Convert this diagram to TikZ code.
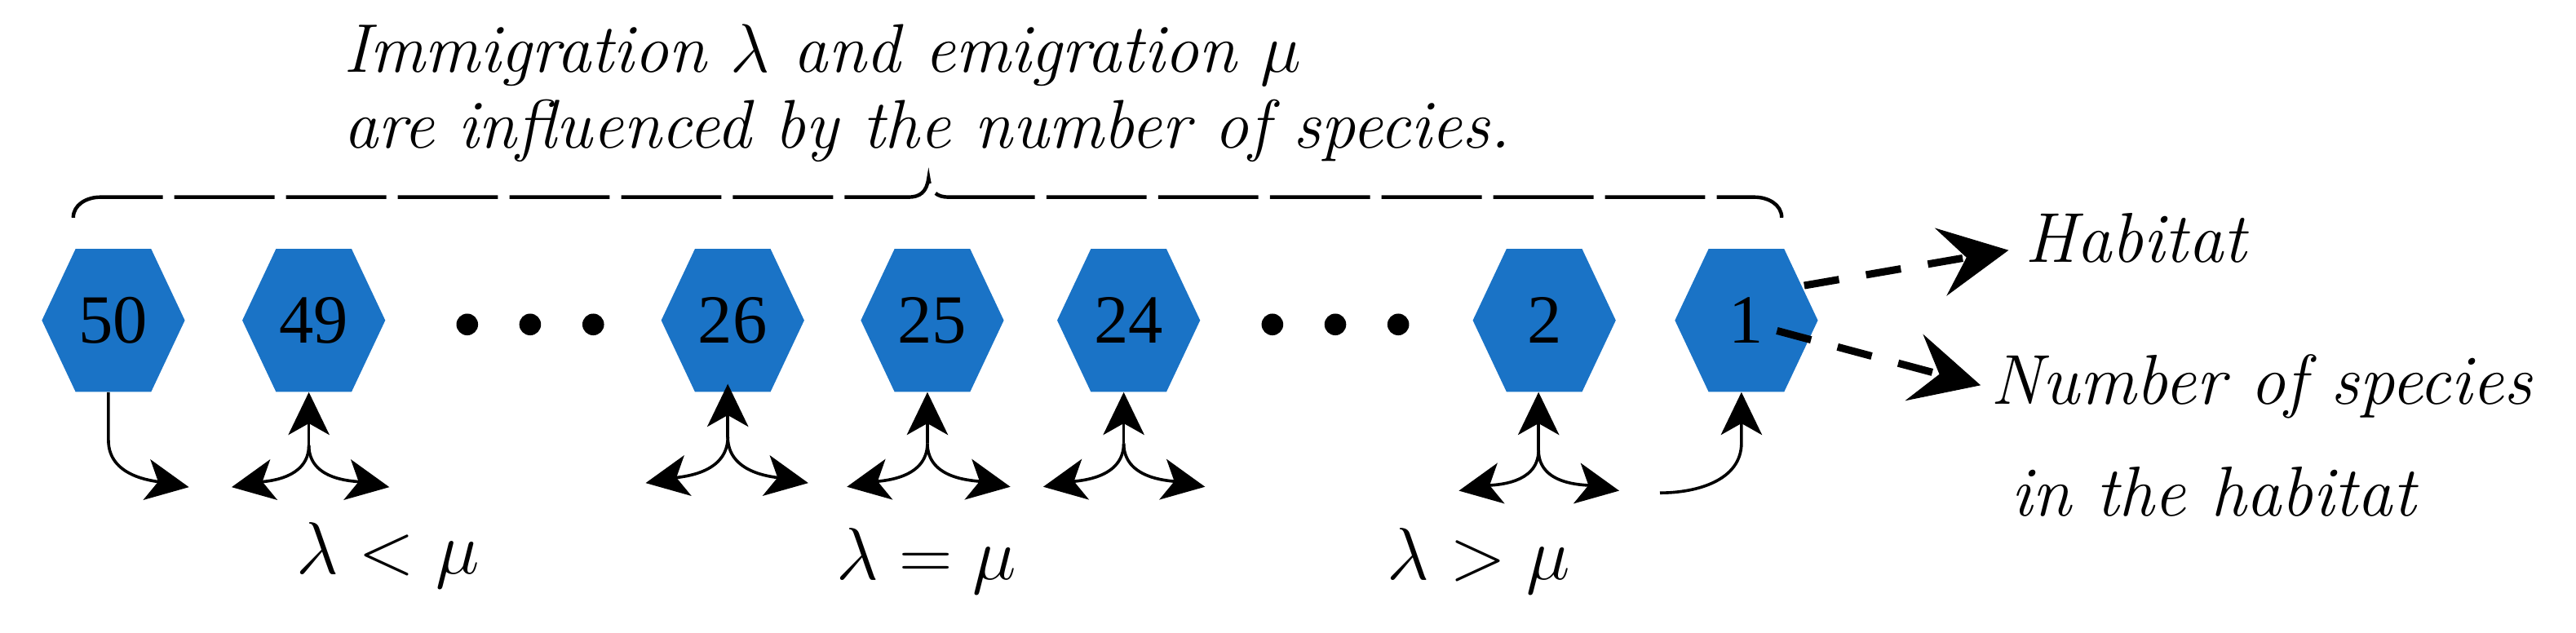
\RequirePackage{fix-cm}
\documentclass[tikz,border=0pt]{standalone}
\usepackage{fontspec}
\newfontfamily\numfont{Liberation Serif}
\usetikzlibrary{arrows.meta,calc}
\definecolor{hexblue}{HTML}{1A73C6}
\begin{document}
\begin{tikzpicture}[x=1bp,y=1bp,
  >={Stealth[length=26bp,width=25bp,inset=7bp]},
  hexnode/.style={minimum width=87bp, minimum height=87bp, inner sep=0pt,
    font=\numfont\fontsize{42bp}{48bp}\selectfont,
    path picture={\fill[hexblue] (path picture bounding box.west)
      -- ([xshift=20.5bp]path picture bounding box.north west)
      -- ([xshift=-20.5bp]path picture bounding box.north east)
      -- (path picture bounding box.east)
      -- ([xshift=-20.5bp]path picture bounding box.south east)
      -- ([xshift=20.5bp]path picture bounding box.south west) -- cycle;}},
  dotnode/.style={circle, fill=black, minimum size=13.2bp, inner sep=0pt},
  solidarrow/.style={line width=1.8bp, ->},
  dasharrow/.style={line width=4.5bp, dash pattern=on 21.5bp off 16.7bp,
    -{Stealth[length=42bp,width=42bp,inset=16bp,line width=0.5bp]}},
  bracestyle/.style={line width=2.2bp, dash pattern=on 61bp off 7bp},
  toptext/.style={inner sep=0pt, anchor=base west,
    font=\fontsize{41.9bp}{50bp}\selectfont\itshape},
  sidetext/.style={inner sep=0pt, anchor=base west,
    font=\fontsize{43bp}{52bp}\selectfont\itshape},
  condlabel/.style={inner sep=0pt, anchor=base,
    font=\fontsize{45bp}{54bp}\selectfont}
]
\useasboundingbox (0,0) rectangle (1568,385);

% habitats
\node[hexnode] (h50) at (69,190) {50};
\node[hexnode] (h49) at (191,190) {49};
\node[hexnode] (h26) at (446,190) {26};
\node[hexnode] (h25) at (567.5,190) {25};
\node[hexnode] (h24) at (687,190) {24};
\node[hexnode] (h2) at (940,190) {2};
\node[hexnode] (h1) at (1063,190) {1};

% ellipsis dots
\node[dotnode] (d1) at (284.4,187.5) {};
\node[dotnode] (d2) at (322.7,187.5) {};
\node[dotnode] (d3) at (361.1,187.5) {};
\node[dotnode] (d4) at (774.5,187.5) {};
\node[dotnode] (d5) at (812.8,187.5) {};
\node[dotnode] (d6) at (851.1,187.5) {};

% brace
\draw[bracestyle] (44.6,252.5) to[out=90,in=180] (61,265) -- (552.7,265)
  .. controls (560,265) and (564,268) .. (565.2,276.5)
  .. controls (566.4,268) and (570.4,265) .. (577.6,265)
  -- (1068,265) to[out=0,in=90] (1084.5,252.5);

% texts
\node[toptext] (t1) at (209,341.1) {Immigration $\lambda$ and emigration $\mu$};
\node[toptext] (t2) at (209,294.8) {are influenced by the number of species.};
\node[sidetext] (hab) at (1232.5,225.3) {Habitat};
\node[sidetext] (nos) at (1211.6,139.2) {Number of species};
\node[sidetext] (ith) at (1224,71.2) {in the habitat};
\node[condlabel] (c1) at (236,35.8) {$\lambda<\mu$};
\node[condlabel] (c2) at (564,32.4) {$\lambda=\mu$};
\node[condlabel] (c3) at (900,32.4) {$\lambda>\mu$};

% coordinates
\coordinate (k50) at (66,117);   \coordinate (t50) at (115,88.5);
\coordinate (s49) at (188,114);  \coordinate (l49) at (141,88.5);  \coordinate (r49) at (237,88.5);
\coordinate (s26) at (443,119);  \coordinate (l26) at (393,91);    \coordinate (r26) at (492,91);
\coordinate (s25) at (564.5,115.2); \coordinate (l25) at (515.5,88.7); \coordinate (r25) at (615,88.7);
\coordinate (s24) at (684,115.2);   \coordinate (l24) at (635,88.7);   \coordinate (r24) at (733.5,88.7);
\coordinate (s2) at (936.5,111);    \coordinate (l2) at (888,86.3);    \coordinate (r2) at (985.6,86.3);
\coordinate (s1) at (1010.4,85);    \coordinate (k1) at (1060,115.4);
\coordinate (tipH) at (1222.6,232.7);
\coordinate (tipN) at (1205.6,150.5);

% migration arrows
\draw[solidarrow] (k50 |- h50.south) -- (k50) to[out=-90,in=170] (t50);
\foreach \g in {49,25,24,2}{
  \draw[solidarrow] (s\g) -- (s\g |- h\g.south);
  \draw[solidarrow] (s\g) to[out=-90,in=10] (l\g);
  \draw[solidarrow] (s\g) to[out=-90,in=170] (r\g);
}
\draw[solidarrow] (s26) -- ($(s26 |- h26.south)+(0,5)$);
\draw[solidarrow] (s26) to[out=-90,in=10] (l26);
\draw[solidarrow] (s26) to[out=-90,in=170] (r26);
\draw[solidarrow] (s1) to[out=0,in=-90] (k1) -- (k1 |- h1.south);

% dashed pointers
\draw[dasharrow] ($(h1.center)+(35.2,21.2)$) -- (tipH);
\draw[dasharrow] ($(h1.center)+(18.6,-6.3)$) -- (tipN);
\end{tikzpicture}
\end{document}
